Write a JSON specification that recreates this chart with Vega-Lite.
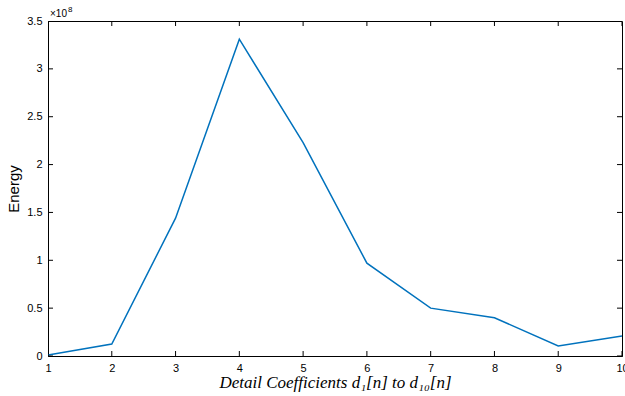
{
  "$schema": "https://vega.github.io/schema/vega-lite/v6.json",
  "width": 574,
  "height": 335,
  "autosize": {"type": "none"},
  "padding": {"left": 48, "top": 21, "right": 3, "bottom": 40},
  "background": "white",
  "config": {
    "view": {"stroke": "#000000", "strokeWidth": 1},
    "axis": {
      "grid": false,
      "domainColor": "#000000",
      "tickColor": "#000000",
      "tickWidth": 1,
      "labelFont": "Liberation Sans",
      "labelFontSize": 11,
      "labelColor": "#000000",
      "labelFlush": false,
      "labelOverlap": false,
      "titleColor": "#000000",
      "titleFontWeight": "normal"
    }
  },
  "datasets": {
    "energyTicks": [
      {"energy": 0},
      {"energy": 50000000},
      {"energy": 100000000},
      {"energy": 150000000},
      {"energy": 200000000},
      {"energy": 250000000},
      {"energy": 300000000},
      {"energy": 350000000}
    ]
  },
  "data": {
    "values": [
      {"level": 1, "energy": 1000000},
      {"level": 2, "energy": 12500000},
      {"level": 3, "energy": 144000000},
      {"level": 4, "energy": 331000000},
      {"level": 5, "energy": 223000000},
      {"level": 6, "energy": 97000000},
      {"level": 7, "energy": 50000000},
      {"level": 8, "energy": 40000000},
      {"level": 9, "energy": 10500000},
      {"level": 10, "energy": 21000000}
    ]
  },
  "layer": [
    {
      "mark": {"type": "line", "color": "#0072BD", "strokeWidth": 1.5, "clip": true},
      "encoding": {
        "x": {
          "field": "level",
          "type": "quantitative",
          "scale": {"domain": [1, 10], "nice": false, "zero": false},
          "axis": {
            "orient": "bottom",
            "values": [1, 2, 3, 4, 5, 6, 7, 8, 9, 10],
            "ticks": false,
            "labelPadding": 6,
            "title": "Detail Coefficients d₁[n] to d₁₀[n]",
            "titleFont": "Liberation Serif",
            "titleFontStyle": "italic",
            "titleFontSize": 17,
            "titlePadding": 1
          }
        },
        "y": {
          "field": "energy",
          "type": "quantitative",
          "scale": {"domain": [0, 350000000], "nice": false},
          "axis": {
            "orient": "left",
            "values": [0, 50000000, 100000000, 150000000, 200000000, 250000000, 300000000, 350000000],
            "labelExpr": "format(datum.value / 100000000, '')",
            "ticks": false,
            "labelPadding": 6,
            "title": "Energy",
            "titleFont": "Liberation Sans",
            "titleFontSize": 15,
            "titlePadding": 5
          }
        }
      }
    },
    {
      "mark": {"type": "tick", "orient": "vertical", "size": 10, "thickness": 1, "color": "#000000", "opacity": 1, "clip": true},
      "encoding": {
        "x": {"field": "level", "type": "quantitative", "axis": null},
        "y": {"datum": 0, "type": "quantitative", "axis": null}
      }
    },
    {
      "mark": {"type": "tick", "orient": "vertical", "size": 10, "thickness": 1, "color": "#000000", "opacity": 1, "clip": true},
      "encoding": {
        "x": {"field": "level", "type": "quantitative", "axis": null},
        "y": {"datum": 350000000, "type": "quantitative", "axis": null}
      }
    },
    {
      "data": {"name": "energyTicks"},
      "mark": {"type": "tick", "orient": "horizontal", "size": 10, "thickness": 1, "color": "#000000", "opacity": 1, "clip": true},
      "encoding": {
        "x": {"datum": 1, "type": "quantitative", "axis": null},
        "y": {"field": "energy", "type": "quantitative", "axis": null}
      }
    },
    {
      "data": {"name": "energyTicks"},
      "mark": {"type": "tick", "orient": "horizontal", "size": 10, "thickness": 1, "color": "#000000", "opacity": 1, "clip": true},
      "encoding": {
        "x": {"datum": 10, "type": "quantitative", "axis": null},
        "y": {"field": "energy", "type": "quantitative", "axis": null}
      }
    },
    {
      "data": {"values": [{"level": 1, "energy": 350000000, "part": "×10"}]},
      "mark": {"type": "text", "align": "left", "baseline": "alphabetic", "dx": 2, "dy": -4, "fontSize": 10, "font": "Liberation Sans", "color": "#000000"},
      "encoding": {
        "x": {"field": "level", "type": "quantitative", "axis": null},
        "y": {"field": "energy", "type": "quantitative", "axis": null},
        "text": {"field": "part"}
      }
    },
    {
      "data": {"values": [{"level": 1, "energy": 350000000, "part": "8"}]},
      "mark": {"type": "text", "align": "left", "baseline": "alphabetic", "dx": 20, "dy": -9, "fontSize": 8, "font": "Liberation Sans", "color": "#000000"},
      "encoding": {
        "x": {"field": "level", "type": "quantitative", "axis": null},
        "y": {"field": "energy", "type": "quantitative", "axis": null},
        "text": {"field": "part"}
      }
    }
  ],
  "resolve": {"axis": {"x": "independent", "y": "independent"}}
}
